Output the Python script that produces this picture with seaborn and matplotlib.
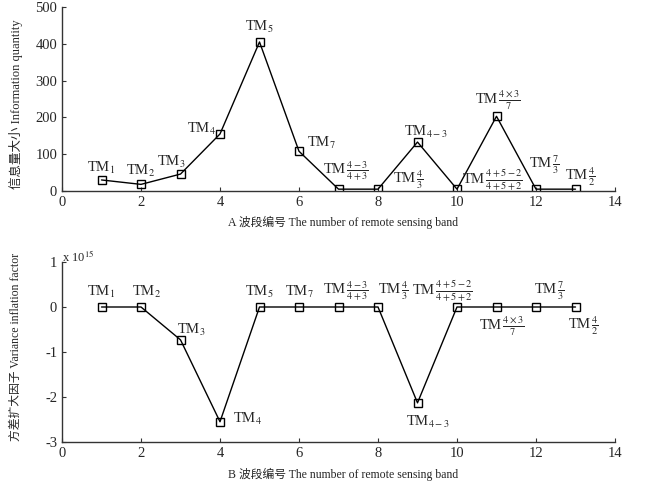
import numpy as np
import pandas as pd
import matplotlib
matplotlib.use('Agg')
import matplotlib.pyplot as plt
import seaborn as sns

# 数据
band = [1, 2, 3, 4, 5, 6, 7, 8, 9, 10, 11, 12, 13]
info_quantity = [30, 18, 46, 155, 405, 108, 5, 5, 133, 5, 203, 5, 5]
vif = [0, 0, -0.73, -2.55, 0, 0, 0, 0, -2.13, 0, 0, 0, 0]  # x 10^15

band_labels = [r'TM$_1$', r'TM$_2$', r'TM$_3$', r'TM$_4$', r'TM$_5$', r'TM$_7$',
               r'TM$\,\frac{4-3}{4+3}$', r'TM$\,\frac{4}{3}$', r'TM$_{4-3}$',
               r'TM$\,\frac{4+5-2}{4+5+2}$', r'TM$\,\frac{4\times3}{7}$',
               r'TM$\,\frac{7}{3}$', r'TM$\,\frac{4}{2}$']

x_ticks = [0, 2, 4, 6, 8, 10, 12, 14]
y_ticks_a = [0, 100, 200, 300, 400, 500]
y_ticks_b = [-3, -2, -1, 0, 1]

# 标签偏移 (像素, 相对于数据点)
offsets_a = [(0, 12), (0, 13), (-9, 12), (-19, 5), (0, 15), (22, 8), (7, 18),
             (30, 9), (8, 10), (35, 9), (1, 16), (8, 24), (5, 12)]
offsets_b = [(0, 15), (6, 15), (11, 10), (27, 3), (0, 15), (0, 15), (7, 16),
             (15, 16), (10, -19), (-15, 16), (5, -19), (13, 16), (8, -19)]

sns.set_style('ticks')
plt.rcParams['font.family'] = ['Liberation Serif', 'Noto Sans CJK SC']
plt.rcParams['mathtext.fontset'] = 'stix'
plt.rcParams['axes.unicode_minus'] = False
plt.rcParams['xtick.direction'] = 'in'
plt.rcParams['ytick.direction'] = 'in'

fig = plt.figure(figsize=(6.46, 4.91), dpi=100)
ax_a = fig.add_axes([62 / 646, 1 - 191 / 491, 553 / 646, 184 / 491])
ax_b = fig.add_axes([62 / 646, 1 - 442 / 491, 553 / 646, 180 / 491])

df = pd.DataFrame({'band': band, 'info': info_quantity, 'vif': vif})

line_kw = dict(color='black', marker='s', markersize=6, markerfacecolor='none',
               markeredgecolor='black', markeredgewidth=1.0, linewidth=1.0)

sns.lineplot(data=df, x='band', y='info', ax=ax_a, **line_kw)
sns.lineplot(data=df, x='band', y='vif', ax=ax_b, **line_kw)


def style_axes(ax, yticks):
    ax.set_xlim(0, 14)
    ax.set_ylim(yticks[0], yticks[-1])
    ax.set_xticks(x_ticks)
    ax.set_yticks(yticks)
    ax.tick_params(labelsize=10.5, length=3, width=0.8, color='#333333')
    sns.despine(ax=ax)
    for s in ['left', 'bottom']:
        ax.spines[s].set_color('#333333')
        ax.spines[s].set_linewidth(1.0)
    ax.set_xlabel('')
    ax.set_ylabel('')


style_axes(ax_a, y_ticks_a)
style_axes(ax_b, y_ticks_b)

for xi, yi, lab, off in zip(band, info_quantity, band_labels, offsets_a):
    ax_a.annotate(lab, (xi, yi), xytext=(off[0] * 0.72, off[1] * 0.72),
                  textcoords='offset points', ha='center', va='center', fontsize=10.5)
for xi, yi, lab, off in zip(band, vif, band_labels, offsets_b):
    ax_b.annotate(lab, (xi, yi), xytext=(off[0] * 0.72, off[1] * 0.72),
                  textcoords='offset points', ha='center', va='center', fontsize=10.5)

ax_b.text(0.0, 1.03, r'x 10$^{15}$', transform=ax_b.transAxes, fontsize=9,
          ha='left', va='center')

fig.text(343 / 646, 1 - 222 / 491, 'A 波段编号 The number of remote sensing band',
         ha='center', va='center', fontsize=8.5)
fig.text(343 / 646, 1 - 474 / 491, 'B 波段编号 The number of remote sensing band',
         ha='center', va='center', fontsize=8.5)
fig.text(16 / 646, 1 - 104 / 491, '信息量大小 Information quantity',
         ha='center', va='center', rotation=90, fontsize=9)
fig.text(16 / 646, 1 - 347 / 491, '方差扩大因子 Variance inflation factor',
         ha='center', va='center', rotation=90, fontsize=8.5)

fig.savefig('out.png', dpi=100)
